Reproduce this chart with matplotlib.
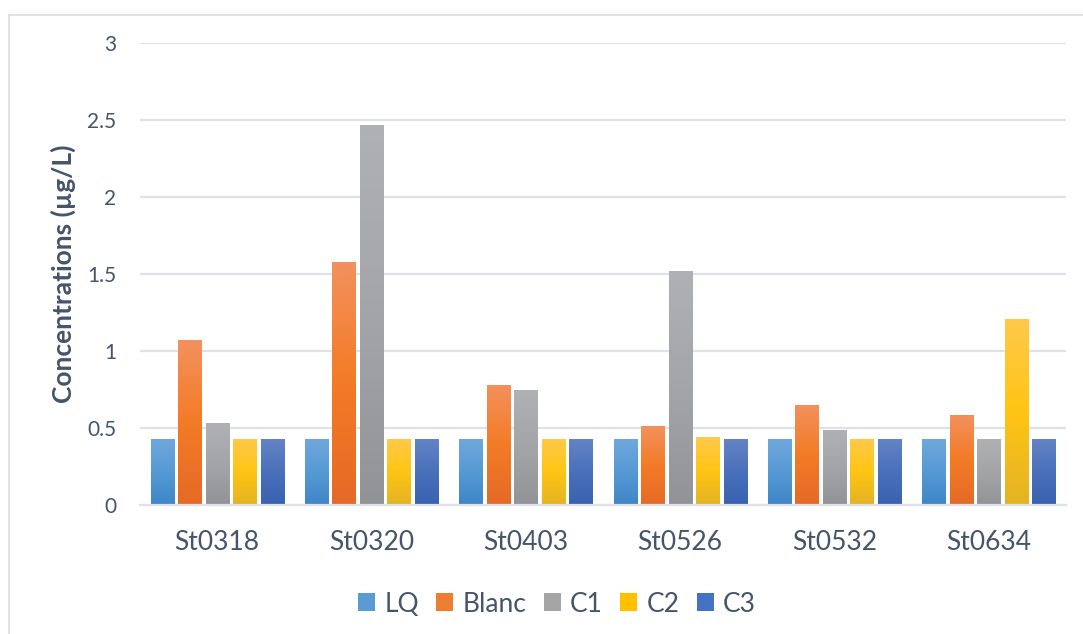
import numpy as np
import matplotlib
matplotlib.use("Agg")
import matplotlib.pyplot as plt
from matplotlib.colors import LinearSegmentedColormap
from matplotlib.patches import Patch
from matplotlib.lines import Line2D

# données
stations = ["St0318", "St0320", "St0403", "St0526", "St0532", "St0634"]
series = ["LQ", "Blanc", "C1", "C2", "C3"]
lq    = [0.43, 0.43, 0.43, 0.43, 0.43, 0.43]
blanc = [1.07, 1.58, 0.78, 0.51, 0.65, 0.585]
c1    = [0.53, 2.47, 0.75, 1.52, 0.49, 0.43]
c2    = [0.43, 0.43, 0.43, 0.44, 0.43, 1.21]
c3    = [0.43, 0.43, 0.43, 0.43, 0.43, 0.43]
values = [lq, blanc, c1, c2, c3]

# (haut, milieu, bas) du dégradé, couleur de base
gradients = [
    ("#70A7DC", "#569AD4", "#3F86C7"),
    ("#F3915E", "#F37B25", "#E56A27"),
    ("#B0B1B4", "#A4A5A8", "#929396"),
    ("#FFC94B", "#FFC513", "#E3B325"),
    ("#6584C5", "#4A70BB", "#3862B0"),
]
base_colors = ["#5B9BD5", "#ED7D31", "#A5A5A5", "#FFC000", "#4472C4"]

txt = "#44546A"
grid_c = "#DEE2E8"
plt.rcParams["font.family"] = ["Lato", "DejaVu Sans"]

fig = plt.figure(figsize=(10.83, 6.34), dpi=100)
ax = fig.add_axes([140 / 1083, 1 - 505 / 634, 926 / 1083, 462 / 634])

x = np.arange(len(stations))
width = 0.15
step = 0.178

for i, (name, vals) in enumerate(zip(series, values)):
    offs = (i - 2) * step
    bars = ax.bar(x + offs, vals, width, color=base_colors[i], label=name, zorder=3)
    cmap = LinearSegmentedColormap.from_list(name, list(gradients[i][::-1]))
    grad = np.linspace(0, 1, 256).reshape(-1, 1)
    for b in bars:
        x0, y0 = b.get_x(), b.get_y()
        im = ax.imshow(grad, cmap=cmap, origin="lower", aspect="auto",
                       extent=(x0, x0 + b.get_width(), y0, y0 + b.get_height()),
                       zorder=4, interpolation="bilinear")
        im.set_clip_path(b)

ax.set_xlim(-0.5, len(stations) - 0.5)
ax.set_ylim(0, 3)
ax.set_yticks([0, 0.5, 1, 1.5, 2, 2.5, 3])
ax.set_yticklabels(["0", "0.5", "1", "1.5", "2", "2.5", "3"])
ax.set_xticks(x)
ax.set_xticklabels(stations)
ax.tick_params(axis="both", length=0, colors=txt)
ax.tick_params(axis="x", labelsize=19, pad=18)
ax.tick_params(axis="y", labelsize=15, pad=17)
ax.grid(axis="y", color=grid_c, linewidth=1.6, zorder=0)
for s in ["top", "right", "left"]:
    ax.spines[s].set_visible(False)
ax.spines["bottom"].set_color(grid_c)
ax.spines["bottom"].set_linewidth(1.6)
ax.spines["bottom"].set_zorder(5)

ax.set_ylabel("Concentrations (µg/L)", fontsize=19, fontweight="bold", color=txt, labelpad=8)

handles = [Patch(facecolor=c, edgecolor="none") for c in base_colors]
leg = fig.legend(handles, series, loc="center", bbox_to_anchor=(557 / 1083, 1 - 604 / 634),
                 ncol=5, frameon=False, fontsize=19, handlelength=0.65, handleheight=0.65,
                 handletextpad=0.35, columnspacing=0.65)
for t in leg.get_texts():
    t.set_color(txt)

# cadre du graphique
fig.add_artist(Line2D([9 / 1083, 1], [1 - 15 / 634, 1 - 15 / 634], color="#D9DDE2", linewidth=1.2))
fig.add_artist(Line2D([9 / 1083, 9 / 1083], [0, 1 - 15 / 634], color="#D9DDE2", linewidth=1.2))

fig.savefig("out.png", dpi=100, facecolor="white")
